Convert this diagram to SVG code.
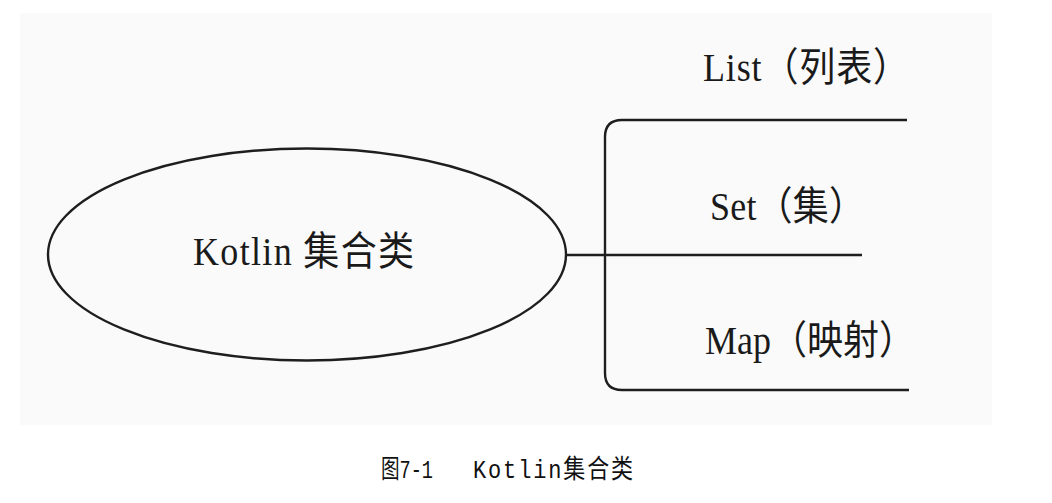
<svg xmlns="http://www.w3.org/2000/svg" width="1052" height="503" viewBox="0 0 1052 503">
<style>
.ln{fill:none;stroke:#1e1e1e;stroke-width:2.4}
.lbl{font-family:"Liberation Serif","Noto Sans CJK SC",serif;font-size:36px;fill:#1a1a1a}
.cap{font-family:"Liberation Mono","Noto Sans CJK SC",monospace;font-size:22px;fill:#111}
</style>
<rect x="20" y="13" width="972" height="412" fill="#fafafa"/>
<g id="connectors">
<path class="ln" d="M566 255 H862"/>
<path class="ln" d="M907 120 H622 Q605 120 605 137 V373 Q605 390 622 390 H909"/>
</g>
<g id="node-kotlin">
<ellipse class="ln" cx="307" cy="254.5" rx="259" ry="106"/>
<text class="lbl" transform="translate(193,265) scale(1,1.1)" textLength="221" lengthAdjust="spacing">Kotlin 集合类</text>
</g>
<g id="node-list">
<text class="lbl" transform="translate(703,81) scale(1,1.1)" textLength="206" lengthAdjust="spacing">List（列表）</text>
</g>
<g id="node-set">
<text class="lbl" transform="translate(710,220) scale(1,1.1)" textLength="155" lengthAdjust="spacing">Set（集）</text>
</g>
<g id="node-map">
<text class="lbl" transform="translate(705,354) scale(1,1.1)" textLength="210" lengthAdjust="spacing">Map（映射）</text>
</g>
<g id="caption">
<text class="cap" transform="translate(0,478) scale(1,1.18)"><tspan x="381" textLength="52" lengthAdjust="spacingAndGlyphs">图7-1</tspan><tspan x="473" textLength="160" lengthAdjust="spacing">Kotlin集合类</tspan></text>
</g>
</svg>
